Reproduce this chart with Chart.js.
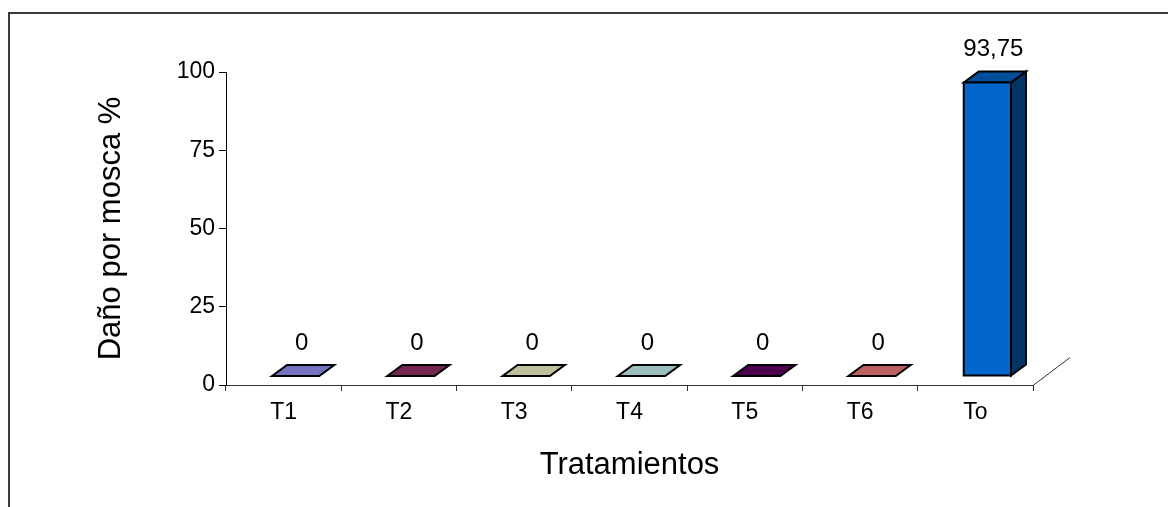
<!DOCTYPE html>
<html>
<head>
<meta charset="utf-8">
<script src="https://cdn.jsdelivr.net/npm/chart.js@4/dist/chart.umd.min.js"></script>
<style>
  html, body { margin: 0; padding: 0; background: #fff; overflow: hidden; }
  #wrap { position: relative; width: 1168px; height: 507px; }
  #frame { position: absolute; left: 8px; top: 12px; right: -10px; bottom: -10px;
           border-top: 2px solid #3a3a3a; border-left: 2px solid #3a3a3a; }
  #holder { position: absolute; left: 0; top: 0; width: 1168px; height: 507px; }
</style>
</head>
<body>
<div id="wrap">
  <div id="frame"></div>
  <div id="holder"><canvas id="c"></canvas></div>
</div>
<script>
// Data
const categories = ['T1', 'T2', 'T3', 'T4', 'T5', 'T6', 'To'];
const damage = [0, 0, 0, 0, 0, 0, 93.75];
const valueLabels = ['0', '0', '0', '0', '0', '0', '93,75'];
const yTicks = [0, 25, 50, 75, 100];
const barColors = ['#9999FF', '#993366', '#FFFFCC', '#CCFFFF', '#660066', '#FF8080', '#0066CC'];

const FONT = "'Liberation Sans', Arial, sans-serif";

// 3D look: bars stand a little behind the axis plane and have some depth
const SHIFT_X = 12, SHIFT_Y = 9;     // offset of bar front face from the axis plane
const DEPTH_X = 15, DEPTH_Y = 11;    // bar depth
const FLOOR_X = 37, FLOOR_Y = 28;    // floor depth at the right end

function shade(hex, f) {
  const n = parseInt(hex.slice(1), 16);
  const r = Math.round(((n >> 16) & 255) * f);
  const g = Math.round(((n >> 8) & 255) * f);
  const b = Math.round((n & 255) * f);
  return `rgb(${r},${g},${b})`;
}

function poly(ctx, pts, fill) {
  ctx.beginPath();
  ctx.moveTo(pts[0][0], pts[0][1]);
  for (let i = 1; i < pts.length; i++) ctx.lineTo(pts[i][0], pts[i][1]);
  ctx.closePath();
  ctx.fillStyle = fill;
  ctx.fill();
  ctx.stroke();
}

const bars3d = {
  id: 'bars3d',
  afterDatasetsDraw(chart) {
    const ctx = chart.ctx;
    const meta = chart.getDatasetMeta(0);
    const area = chart.chartArea;
    ctx.save();

    // floor edge going back from the end of the category axis
    ctx.strokeStyle = '#333';
    ctx.lineWidth = 1;
    ctx.beginPath();
    ctx.moveTo(area.right, area.bottom + 0.5);
    ctx.lineTo(area.right + FLOOR_X, area.bottom + 0.5 - FLOOR_Y);
    ctx.stroke();

    ctx.strokeStyle = '#000';
    ctx.lineWidth = 2;
    ctx.lineJoin = 'miter';
    meta.data.forEach((bar, i) => {
      const w = bar.width;
      const x0 = bar.x - w / 2 + SHIFT_X;
      const x1 = x0 + w;
      const yb = bar.base - SHIFT_Y;
      const yt = bar.y - SHIFT_Y;
      const col = barColors[i];
      if (yb - yt > 1) {
        poly(ctx, [[x1, yt], [x1 + DEPTH_X, yt - DEPTH_Y], [x1 + DEPTH_X, yb - DEPTH_Y], [x1, yb]], shade(col, 0.5));
      }
      poly(ctx, [[x0, yt], [x0 + DEPTH_X, yt - DEPTH_Y], [x1 + DEPTH_X, yt - DEPTH_Y], [x1, yt]], shade(col, 0.75));
      if (yb - yt > 1) {
        poly(ctx, [[x0, yt], [x1, yt], [x1, yb], [x0, yb]], col);
      }
      // value label
      ctx.fillStyle = '#000';
      ctx.font = `24px ${FONT}`;
      ctx.textAlign = 'center';
      ctx.textBaseline = 'middle';
      ctx.fillText(valueLabels[i], bar.x + SHIFT_X + 6, yt - DEPTH_Y - 22);
    });
    ctx.restore();
  }
};

new Chart(document.getElementById('c'), {
  type: 'bar',
  data: {
    labels: categories,
    datasets: [{
      data: damage,
      backgroundColor: 'rgba(0,0,0,0)',
      borderWidth: 0,
      barPercentage: 0.41,
      categoryPercentage: 1
    }]
  },
  options: {
    responsive: true,
    maintainAspectRatio: false,
    animation: false,
    layout: { padding: { left: 90, top: 72, right: 135, bottom: 23 } },
    plugins: { legend: { display: false }, tooltip: { enabled: false } },
    scales: {
      x: {
        grid: { display: true, drawOnChartArea: false, drawTicks: true, tickLength: 6, color: '#333', offset: true },
        border: { display: true, color: '#333', width: 1 },
        ticks: { font: { family: FONT, size: 23 }, color: '#000', padding: 8 },
        title: { display: true, text: 'Tratamientos', color: '#000',
                 font: { family: FONT, size: 31 }, padding: { top: 0, bottom: 0 } },
        afterFit(s) { s.height = 99; }
      },
      y: {
        min: 0,
        max: 100,
        afterBuildTicks(s) { s.ticks = yTicks.map(v => ({ value: v })); },
        grid: { display: true, drawOnChartArea: false, drawTicks: true, tickLength: 7, color: '#000' },
        border: { display: true, color: '#000', width: 1 },
        ticks: { font: { family: FONT, size: 23 }, color: '#000', padding: 4 },
        title: { display: true, text: 'Daño por mosca %', color: '#000',
                 font: { family: FONT, size: 31 }, padding: { top: 3, bottom: 0 } },
        afterFit(s) { s.width = 136; }
      }
    }
  },
  plugins: [bars3d]
});
</script>
</body>
</html>
